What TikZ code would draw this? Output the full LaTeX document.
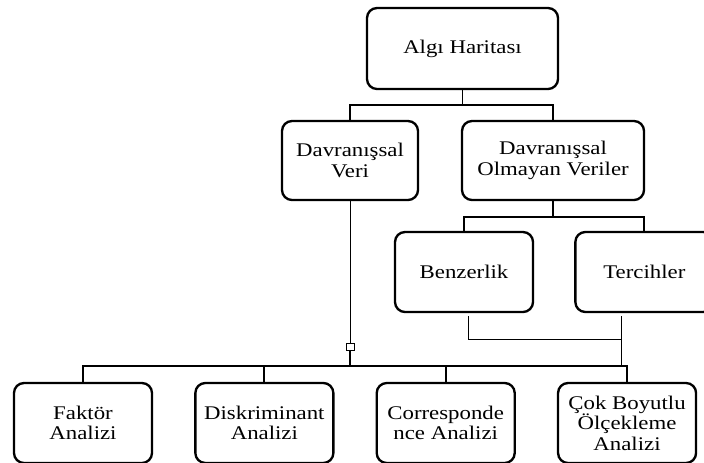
\documentclass[tikz,border=0pt]{standalone}
\usepackage{fontspec}
\setmainfont{Liberation Serif}[FakeStretch=1.18]
\usetikzlibrary{positioning}

\begin{document}
\begin{tikzpicture}[
        x=0.03cm, y=-0.03cm,
        node distance=1.23cm,
        every node/.style={font=\fontsize{16.5}{17.5}\selectfont},
        box/.style={draw, line width=2pt, rounded corners=0.3cm, align=center,
            minimum width=4.14cm, minimum height=2.4cm},
        link/.style={line width=1.5pt},
        thinlink/.style={line width=0.7pt}
    ]
        \clip (0,0) rectangle (704,462);

        \node[box, minimum width=5.73cm, minimum height=2.43cm] (algi) at (462.5,48.5) {Algı Haritası};
        \node[box, minimum width=4.08cm, minimum height=2.37cm] (veri) at (350,160.5) {Davranışsal\\Veri};
        \node[box, minimum width=5.46cm, minimum height=2.37cm] (olmayan) at (553,160.5) {Davranışsal\\Olmayan Veriler};
        \node[box] (benzer) at (464,272) {Benzerlik};
        \node[box, right=1.2cm of benzer] (tercih) {Tercihler};
        \node[box] (faktor) at (83,423) {Faktör\\Analizi};
        \node[box, right=of faktor] (diskrim) {Diskriminant\\Analizi};
        \node[box, right=of diskrim] (corresp) {Corresponde\\nce Analizi};
        \node[box, right=of corresp] (cok) {Çok Boyutlu\\Ölçekleme\\Analizi};

        \draw[link] (algi.south) -- ++(0,15) coordinate (split);
        \draw[link] (veri.north) |- (split) -| (olmayan.north);
        \draw[link] (olmayan.south) -- ++(0,16) coordinate (split2);
        \draw[link] (benzer.north) |- (split2) -| (tercih.north);

        \node[draw, thinlink, inner sep=0pt, minimum width=0.24cm, minimum height=0.21cm] (knot) at (350,346.5) {};
        \coordinate (bar) at (350,366);
        \draw[thinlink] (veri.south) -- (knot.north);
        \draw[link] (knot.south) -- (bar);
        \draw[link] (faktor.north) |- (bar) -| (cok.north);
        \draw[link] (diskrim.north) -- (diskrim.north |- bar);
        \draw[link] (corresp.north) -- (corresp.north |- bar);

        % benzerlik / tercihler bracket
        \coordinate (b1) at (468,316);
        \coordinate (b2) at (621,316);
        \coordinate (b3) at (621,339);
        \draw[thinlink] (b1) |- (b3) -- (b2);
        \draw[thinlink] (b3) -- (b3 |- bar);
    \end{tikzpicture}
\end{document}
